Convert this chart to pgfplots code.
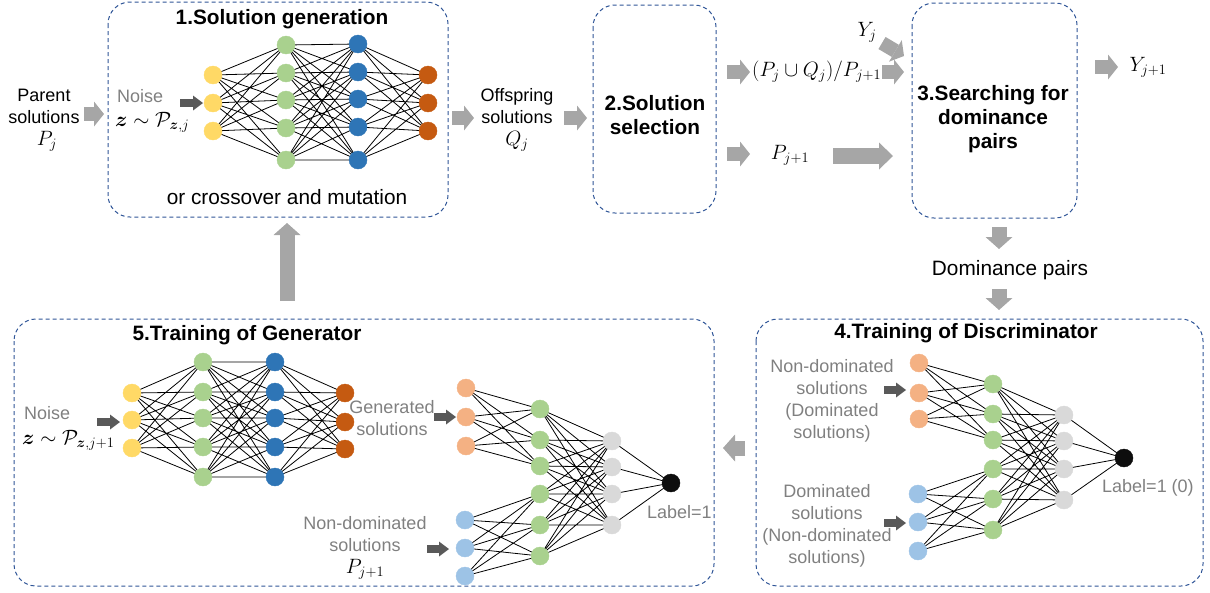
\documentclass[border=0pt]{standalone}
\usepackage{amsmath}
\usepackage{fontspec}
\setmainfont{Liberation Sans}
\usepackage{pgfplots}
\pgfplotsset{compat=1.18}
\usetikzlibrary{arrows.meta}
\definecolor{cyel}{HTML}{FFD966}
\definecolor{cgrn}{HTML}{A9D18E}
\definecolor{cblu}{HTML}{2E75B6}
\definecolor{corg}{HTML}{C55A11}
\definecolor{clor}{HTML}{F4B183}
\definecolor{clbl}{HTML}{9DC3E6}
\definecolor{clgr}{HTML}{D9D9D9}
\definecolor{cblk}{HTML}{0D0D0D}
\definecolor{boxc}{HTML}{2F5597}
\definecolor{arrg}{HTML}{A6A6A6}
\definecolor{arrd}{HTML}{595959}
\definecolor{txtg}{HTML}{808080}
\newcommand\conn[4]{%
  \gdef\tmpc{}%
  \foreach \ya in {#2}{\foreach \yb in {#4}{\xdef\tmpc{\tmpc(#1,\ya)(#3,\yb)(#1,nan)}}}%
  \edef\tmpd{\noexpand\addplot[black, line width=0.8pt, mark=none] coordinates {\tmpc};}\tmpd}
\newcommand\nodes[4][9]{%
  \gdef\tmpc{}%
  \foreach \ya in {#3}{\xdef\tmpc{\tmpc(#2,\ya)}}%
  \edef\tmpd{\noexpand\addplot[only marks, mark=*, mark size=#1pt, color=#4] coordinates {\tmpc};}\tmpd}
\tikzset{
  sarr/.style={color=arrg, line width=14pt, mark=none, -{Triangle[width=25pt,length=10pt,line width=0pt]}},
  marr/.style={color=arrg, line width=15pt, mark=none, -{Triangle[width=27pt,length=12pt,line width=0pt]}},
  barr/.style={color=arrg, line width=16pt, mark=none, -{Triangle[width=27pt,length=14pt,line width=0pt]}},
  darr/.style={color=arrd, line width=8pt, mark=none, -{Triangle[width=15pt,length=10pt,line width=0pt]}},
  dbox/.style={draw=boxc, line width=1pt, dash pattern=on 4pt off 3pt, rounded corners=22pt},
  ttl/.style={font=\fontsize{20.8}{24}\selectfont\bfseries, inner sep=0pt, align=center},
  txt/.style={font=\fontsize{18}{22}\selectfont, inner sep=0pt, align=center},
  big/.style={font=\fontsize{20.8}{24}\selectfont, inner sep=0pt},
  mth/.style={font=\fontsize{20}{24}\selectfont, inner sep=0pt},
}
\begin{document}
\begin{tikzpicture}
\begin{axis}[scale only axis, width=1210pt, height=592pt,
  xmin=0, xmax=1210, ymin=0, ymax=592, y dir=reverse,
  hide axis, clip=false, unbounded coords=jump]
\addplot[draw=none, forget plot] coordinates {(0,0)(1210,592)};
% boxes
\draw[dbox] (axis cs:108,2) rectangle (axis cs:448,217);
\draw[dbox] (axis cs:593,5) rectangle (axis cs:716,213);
\draw[dbox] (axis cs:912,3) rectangle (axis cs:1077,218);
\draw[dbox] (axis cs:756,319) rectangle (axis cs:1203,586);
\draw[dbox] (axis cs:14,319) rectangle (axis cs:714,586);
% gray arrows
\addplot[sarr] coordinates {(84,114)(104,114)};
\addplot[sarr] coordinates {(452,118)(474,118)};
\addplot[sarr] coordinates {(564,118)(587,118)};
\addplot[sarr] coordinates {(727,72)(750,72)};
\addplot[sarr] coordinates {(727,154)(750,154)};
\addplot[barr] coordinates {(833,156)(893,156)};
\addplot[sarr] coordinates {(882,43)(904,56)};
\addplot[sarr] coordinates {(882,72)(904,72)};
\addplot[sarr] coordinates {(1095,67)(1118,67)};
\addplot[marr] coordinates {(999,227)(999,249)};
\addplot[marr] coordinates {(999,289)(999,310)};
\addplot[marr] coordinates {(745,448)(723,448)};
\addplot[marr] coordinates {(287,301)(287,223)};
% dark arrows
\addplot[darr] coordinates {(180,103)(203,103)};
\addplot[darr] coordinates {(97,422)(120,422)};
\addplot[darr] coordinates {(434,417)(456,417)};
\addplot[darr] coordinates {(427,549)(449,549)};
\addplot[darr] coordinates {(884,390)(906,390)};
\addplot[darr] coordinates {(884,523)(906,523)};
% network 1
\conn{213}{75,103,131}{286}{45,73,100,128,160}
\conn{286}{45,73,100,128,160}{358}{44,72,99,127,160}
\conn{358}{44,72,99,127,160}{428}{75,103,131}
\nodes{213}{75,103,131}{cyel}
\nodes{286}{45,73,100,128,160}{cgrn}
\nodes{358}{44,72,99,127,160}{cblu}
\nodes{428}{75,103,131}{corg}
% network 5 generator
\conn{132}{393,420,448}{203}{362,392,418,447,477}
\conn{203}{362,392,418,447,477}{275}{362,392,418,447,477}
\conn{275}{362,392,418,447,477}{345}{393,422,449}
\nodes{132}{393,420,448}{cyel}
\nodes{203}{362,392,418,447,477}{cgrn}
\nodes{275}{362,392,418,447,477}{cblu}
\nodes{345}{393,422,449}{corg}
% network 5 discriminator
\conn{466}{388,417,446}{540}{409,440,466}
\conn{465}{520,548,576}{540}{494,525,556}
\conn{540}{409,440,466,494,525,556}{612}{441,467,494,525}
\conn{612}{441,467,494,525}{671}{483}
\nodes{466}{388,417,446}{clor}
\nodes{465}{520,548,576}{clbl}
\nodes{540}{409,440,466,494,525,556}{cgrn}
\nodes{612}{441,467,494,525}{clgr}
\nodes{671}{483}{cblk}
% network 4
\conn{919}{363,393,419}{993}{384,414,440}
\conn{918}{494,522,551}{993}{469,499,530}
\conn{993}{384,414,440,469,499,530}{1064}{415,441,469,500}
\conn{1064}{415,441,469,500}{1124}{458}
\nodes{919}{363,393,419}{clor}
\nodes{918}{494,522,551}{clbl}
\nodes{993}{384,414,440,469,499,530}{cgrn}
\nodes{1064}{415,441,469,500}{clgr}
\nodes{1124}{458}{cblk}
% titles
\node[ttl] at (axis cs:282,19) {1.Solution generation};
\node[ttl] at (axis cs:655,115) {2.Solution\\selection};
\node[ttl] at (axis cs:993,119) {3.Searching for\\dominance\\pairs};
\node[ttl] at (axis cs:966,333) {4.Training of Discriminator};
\node[ttl] at (axis cs:247,335) {5.Training of Generator};
% texts top
\node[txt] at (axis cs:44,106) {Parent\\solutions};
\node[mth] at (axis cs:47,141) {$P_j$};
\node[txt, text=txtg, anchor=west] at (axis cs:117,96) {Noise};
\node[mth, anchor=west] at (axis cs:115,122) {$\boldsymbol{z}\sim\mathcal{P}_{\boldsymbol{z},j}$};
\node[big] at (axis cs:287,197) {or crossover and mutation};
\node[txt] at (axis cs:517,106) {Offspring\\solutions};
\node[mth] at (axis cs:517,141) {$Q_j$};
\node[mth, anchor=west] at (axis cs:752,72) {$(P_j\cup Q_j)/P_{j+1}$};
\node[mth] at (axis cs:790,155) {$P_{j+1}$};
\node[mth] at (axis cs:867,32) {$Y_j$};
\node[mth] at (axis cs:1148,67) {$Y_{j+1}$};
\node[big] at (axis cs:1010,270) {Dominance pairs};
% texts box 4
\node[txt, text=txtg] at (axis cs:832,401) {Non-dominated\\solutions\\(Dominated\\solutions)};
\node[txt, text=txtg] at (axis cs:827,526) {Dominated\\solutions\\(Non-dominated\\solutions)};
\node[txt, text=txtg, anchor=west] at (axis cs:1102,488) {Label=1 (0)};
% texts box 5
\node[txt, text=txtg, anchor=west] at (axis cs:24,413) {Noise};
\node[mth, anchor=west] at (axis cs:22,440) {$\boldsymbol{z}\sim\mathcal{P}_{\boldsymbol{z},j+1}$};
\node[txt, text=txtg] at (axis cs:392,418) {Generated\\solutions};
\node[txt, text=txtg] at (axis cs:365,534) {Non-dominated\\solutions};
\node[mth] at (axis cs:365,569) {$P_{j+1}$};
\node[txt, text=txtg, anchor=west] at (axis cs:647,512) {Label=1};
\end{axis}
\end{tikzpicture}
\end{document}
